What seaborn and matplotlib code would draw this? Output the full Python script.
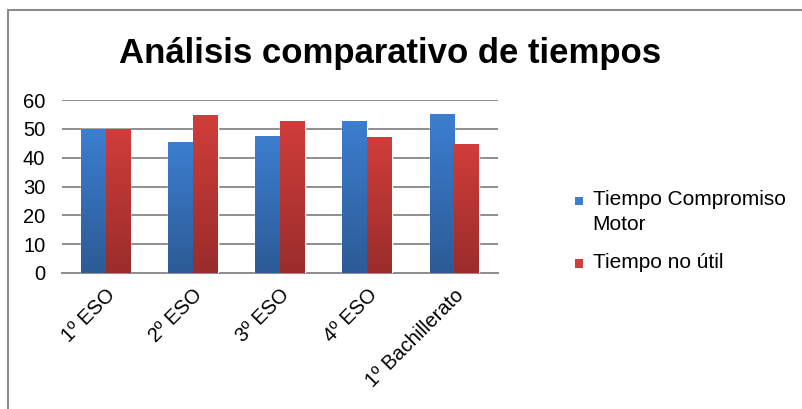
import numpy as np
import pandas as pd
import matplotlib
matplotlib.use("Agg")
import matplotlib.pyplot as plt
import seaborn as sns
from matplotlib.colors import LinearSegmentedColormap
from matplotlib.patches import Patch, Rectangle
from matplotlib.lines import Line2D
from matplotlib.legend_handler import HandlerPatch

categories = ["1º ESO", "2º ESO", "3º ESO", "4º ESO", "1º Bachillerato"]
compromiso = [50.0, 45.3, 47.4, 52.8, 55.1]
no_util = [50.0, 54.7, 52.6, 47.2, 44.9]
series = ["Tiempo Compromiso\nMotor", "Tiempo no útil"]
yticks = [0, 10, 20, 30, 40, 50, 60]
title = "Análisis comparativo de tiempos"

sns.set_theme(style="white")
plt.rcParams["font.family"] = ["Liberation Sans", "DejaVu Sans"]
plt.rcParams["text.color"] = "black"

df = pd.DataFrame({
    "Curso": categories * 2,
    "Serie": [series[0]] * len(categories) + [series[1]] * len(categories),
    "Valor": compromiso + no_util,
})

blue_top, blue_bot = "#3C7ED0", "#2C5B96"
red_top, red_bot = "#D03D3A", "#9A2D2B"

fig = plt.figure(figsize=(8.03, 4.09), dpi=100)
ax = fig.add_axes([62 / 803, 1 - 273 / 409, 436 / 803, 173 / 409])
sns.barplot(data=df, x="Curso", y="Valor", hue="Serie",
            palette=[blue_top, red_top], width=0.57, saturation=1,
            ax=ax, legend=False, zorder=3)

cm_blue = LinearSegmentedColormap.from_list("b", [blue_bot, blue_top])
cm_red = LinearSegmentedColormap.from_list("r", [red_bot, red_top])
grad = np.linspace(0, 1, 256).reshape(-1, 1)
for p in list(ax.patches):
    h = p.get_height()
    if h <= 0:
        continue
    x0, w = p.get_x(), p.get_width()
    fc = p.get_facecolor()
    cmap = cm_blue if fc[2] > fc[0] else cm_red
    im = ax.imshow(grad, extent=[x0, x0 + w, 0, h], origin="lower",
                   aspect="auto", cmap=cmap, zorder=4)
    im.set_clip_path(p)

ax.set_xlim(-0.5, len(categories) - 0.5)
ax.set_ylim(0, 60)
ax.set_yticks(yticks)
ax.set_yticklabels([str(v) for v in yticks], fontsize=14.5)
ax.set_xticks(range(len(categories)))
ax.set_xticklabels(categories, fontsize=14.5, rotation=45, ha="right",
                   rotation_mode="anchor")
ax.set_xlabel("")
ax.set_ylabel("")
ax.yaxis.grid(True, color="#8E8E8E", lw=1.4)
ax.set_axisbelow(True)
for s in ["top", "right", "left"]:
    ax.spines[s].set_visible(False)
ax.spines["bottom"].set_color("#8E8E8E")
ax.spines["bottom"].set_linewidth(1.4)
ax.tick_params(axis="y", length=0, pad=12, colors="black")
ax.tick_params(axis="x", length=0, pad=9, colors="black")

fig.text(390 / 803, 1 - 53 / 409, title, ha="center", va="center",
         fontsize=25, fontweight="bold", color="black")


def square(legend, orig_handle, xdescent, ydescent, width, height, fontsize):
    return Rectangle((-xdescent, -ydescent), width, width)


handles = [Patch(facecolor=blue_top, edgecolor="none"),
           Patch(facecolor=red_top, edgecolor="none")]
leg = fig.legend(handles, series, loc="upper left",
                 bbox_to_anchor=(575 / 803, 1 - 190 / 409), frameon=False,
                 fontsize=15, handlelength=0.4, handleheight=0.72,
                 handletextpad=0.45, labelspacing=0.9, borderpad=0,
                 borderaxespad=0,
                 handler_map={Patch: HandlerPatch(patch_func=square)})
for t in leg.get_texts():
    t.set_linespacing(1.4)
    t.set_color("black")
for col in leg._legend_handle_box.get_children():
    for row in col.get_children():
        row.align = "top"

border_c = "#8C8C8C"
fig.add_artist(Line2D([8 / 803, 1], [1 - 10 / 409, 1 - 10 / 409],
                      transform=fig.transFigure, color=border_c, lw=1.5))
fig.add_artist(Line2D([8 / 803, 8 / 803], [0, 1 - 10 / 409],
                      transform=fig.transFigure, color=border_c, lw=1.5))

fig.savefig("out.png", dpi=100, facecolor="white")
